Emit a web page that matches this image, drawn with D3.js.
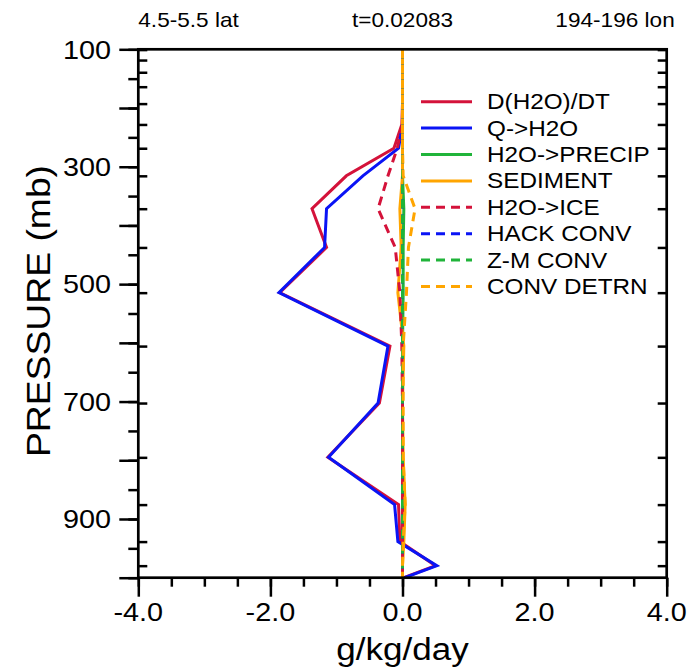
<!DOCTYPE html>
<html><head><meta charset="utf-8">
<script src="https://cdn.jsdelivr.net/npm/d3@7"></script>
<style>body{margin:0;background:#fff}svg{display:block}text{font-family:"Liberation Sans",Arial,sans-serif;fill:#000}</style>
</head><body><svg id="c" width="697" height="672"></svg>
<script>
// model levels (mb)
const levels = [100.5,118.3,139.1,163.7,192.5,228.0,268.5,315.5,371.5,437.5,514.5,605.5,702.5,795.0,875.5,938.5,979.5,1000];
const seriesNames = ["D(H2O)/DT","Q->H2O","H2O->PRECIP","SEDIMENT","H2O->ICE","HACK CONV","Z-M CONV","CONV DETRN"];
const dH2Odt   = [0,0,0,0,0,-0.01,-0.13,-0.85,-1.37,-1.15,-1.86,-0.19,-0.35,-1.13,-0.06,-0.04,0.50,0.02];
const qToH2O   = [0,0,0,0,0,0,-0.06,-0.60,-1.15,-1.18,-1.87,-0.22,-0.37,-1.12,-0.12,-0.07,0.52,0.03];
const precip   = [0,0,0,0,0,0,0,0,0.02,0.01,0.01,0,0,0,0,0,0,0];
const sediment = [0,0,0,0,0,0,0,0,-0.04,-0.02,-0.07,0.02,0,0.01,0.04,0.02,0,0];
const toIce    = [0,0,0,0,0,0,-0.08,-0.22,-0.37,-0.11,-0.04,-0.01,0,0,0,0,0,0];
const hackConv = [0,0,0,0,0,0,0,0,0,0,0,0,0,0,0,0,0,0];
const zmConv   = [0,0,0,0,0,0,0,0,0,0,0,0,0,0,0,0,0,0];
const convDet  = [0,0,0,0,0,0,0,0.01,0.19,0.09,0.06,0.01,0.01,0.01,0.04,0.01,0,0];
const xTickLabels = ["-4.0","-2.0","0.0","2.0","4.0"];
const yTickLabels = ["100","300","500","700","900"];
const titles = ["4.5-5.5 lat","t=0.02083","194-196 lon"];
const colors = ["#d4123a","#0a14f5","#20b43a","#ffa500","#d4123a","#0a14f5","#20b43a","#ffa500"];

const SX = 1.13;
const svg = d3.select("#c");
const L = 138.3, R = 666.7, T = 49.3, B = 577.7;
const x = d3.scaleLinear().domain([-4,4]).range([L,R]);
const y = d3.scaleLinear().domain([100,1000]).range([T,B]);

function txt(g, s, px, py, size, anchor, rot){
  g.append("text").attr("transform",`translate(${px},${py})${rot?` rotate(${rot})`:""} scale(${SX},1)`)
   .attr("text-anchor",anchor).attr("font-size",size).text(s);
}

svg.append("clipPath").attr("id","clip").append("rect").attr("x",L).attr("y",T).attr("width",R-L).attr("height",B-T);

const data = [dH2Odt,qToH2O,precip,sediment,toIce,hackConv,zmConv,convDet];
const line = d3.line().x(d=>x(d[0])).y(d=>y(d[1]));
const plot = svg.append("g").attr("clip-path","url(#clip)");
data.forEach((vals,i)=>{
  plot.append("path").datum(vals.map((v,k)=>[v,levels[k]]))
    .attr("d",line).attr("fill","none").attr("stroke",colors[i]).attr("stroke-width",3)
    .attr("stroke-linejoin","miter")
    .attr("stroke-dasharray", i>=4 ? "9,6" : null);
});

// axes ticks
const axStyle = g=>{g.select(".domain").remove(); g.selectAll("line").attr("stroke","#000").attr("stroke-width",2.5);};
svg.append("g").attr("transform",`translate(0,${B})`)
  .call(d3.axisBottom(x).tickValues(d3.range(-4,4.01,0.5)).tickSize(9).tickFormat("")).call(axStyle);
svg.append("g").attr("transform",`translate(0,${B})`)
  .call(d3.axisBottom(x).tickValues([-4,-2,0,2,4]).tickSize(19).tickFormat("")).call(axStyle);
svg.append("g").attr("transform",`translate(${L},0)`)
  .call(d3.axisLeft(y).tickValues(d3.range(100,1001,50)).tickSize(10).tickFormat("")).call(axStyle);
svg.append("g").attr("transform",`translate(${L},0)`)
  .call(d3.axisLeft(y).tickValues(d3.range(100,1001,100)).tickSize(19).tickFormat("")).call(axStyle);
svg.append("g").attr("transform",`translate(${L},0)`)
  .call(d3.axisRight(y).tickValues(levels.slice(0,-1)).tickSize(9).tickFormat("")).call(axStyle);
svg.append("g").attr("transform",`translate(${R},0)`)
  .call(d3.axisLeft(y).tickValues(levels.slice(0,-1)).tickSize(9).tickFormat("")).call(axStyle);

svg.append("rect").attr("x",L).attr("y",T).attr("width",R-L).attr("height",B-T)
  .attr("fill","none").attr("stroke","#000").attr("stroke-width",2.7);

// tick labels
const lab = svg.append("g");
xTickLabels.forEach(s=>txt(lab,s,x(+s),621,25.5,"middle"));
yTickLabels.forEach(s=>txt(lab,s,111,y(+s)+9.3,25.5,"end"));
txt(lab,"g/kg/day",(L+R)/2,660,31,"middle");
txt(lab,"PRESSURE (mb)",50,311,33,"middle",-90);
txt(lab,titles[0],L,27,20,"start");
txt(lab,titles[1],(L+R)/2,27,20,"middle");
txt(lab,titles[2],R+8,27,20,"end");

// legend
const lg = svg.append("g");
seriesNames.forEach((s,i)=>{
  const yy = 101.7 + i*26.4;
  lg.append("line").attr("x1",421).attr("x2",472).attr("y1",yy).attr("y2",yy)
    .attr("stroke",colors[i]).attr("stroke-width",3).attr("stroke-dasharray", i>=4 ? "9,6" : null);
  txt(lg,s,487,yy+7.5,21.5,"start");
});
</script></body></html>
